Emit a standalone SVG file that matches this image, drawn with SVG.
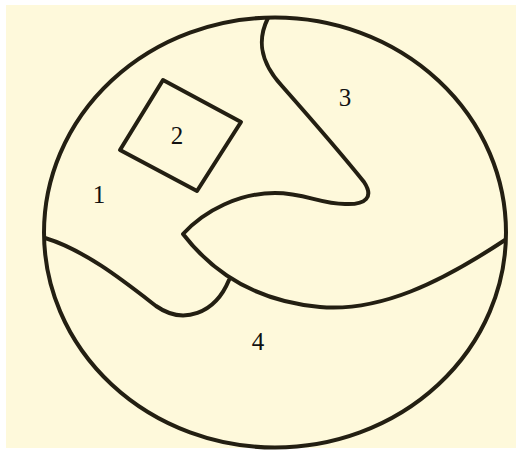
<svg xmlns="http://www.w3.org/2000/svg" width="516" height="451" viewBox="0 0 516 451">
<style>
.ln{fill:none;stroke:#231f12;stroke-width:4;stroke-linejoin:round;stroke-linecap:round}
.lb{font-family:"Liberation Serif","Times New Roman",serif;font-size:25px;fill:#111;text-anchor:middle}
</style>
<rect x="0" y="0" width="516" height="451" fill="#ffffff"/>
<rect x="6" y="5" width="510" height="443" fill="#fef9db"/>
<g id="outline">
<ellipse class="ln" cx="275" cy="232.5" rx="231" ry="215"/>
</g>
<g id="boundaries">
<path id="curve-3-4" class="ln" d="M 268 18 C 258 38, 258 60, 282 86 C 312 120, 348 162, 364 182 C 374 197, 366 205, 345 204 C 320 204, 305 193, 275 193 C 240 193, 205 210, 183 234 C 200 256, 240 300, 320 307 C 380 312, 440 283, 505 240"/>
<path id="curve-1-4" class="ln" d="M 45 238 C 85 250, 125 282, 156 306 C 183 325, 215 314, 229 280"/>
</g>
<g id="region-2">
<polygon class="ln" points="163,80 241,122 197,191 120,150"/>
</g>
<g id="labels">
<text class="lb" x="99" y="203">1</text>
<text class="lb" x="177" y="144">2</text>
<text class="lb" x="345" y="106">3</text>
<text class="lb" x="258" y="350">4</text>
</g>
</svg>
